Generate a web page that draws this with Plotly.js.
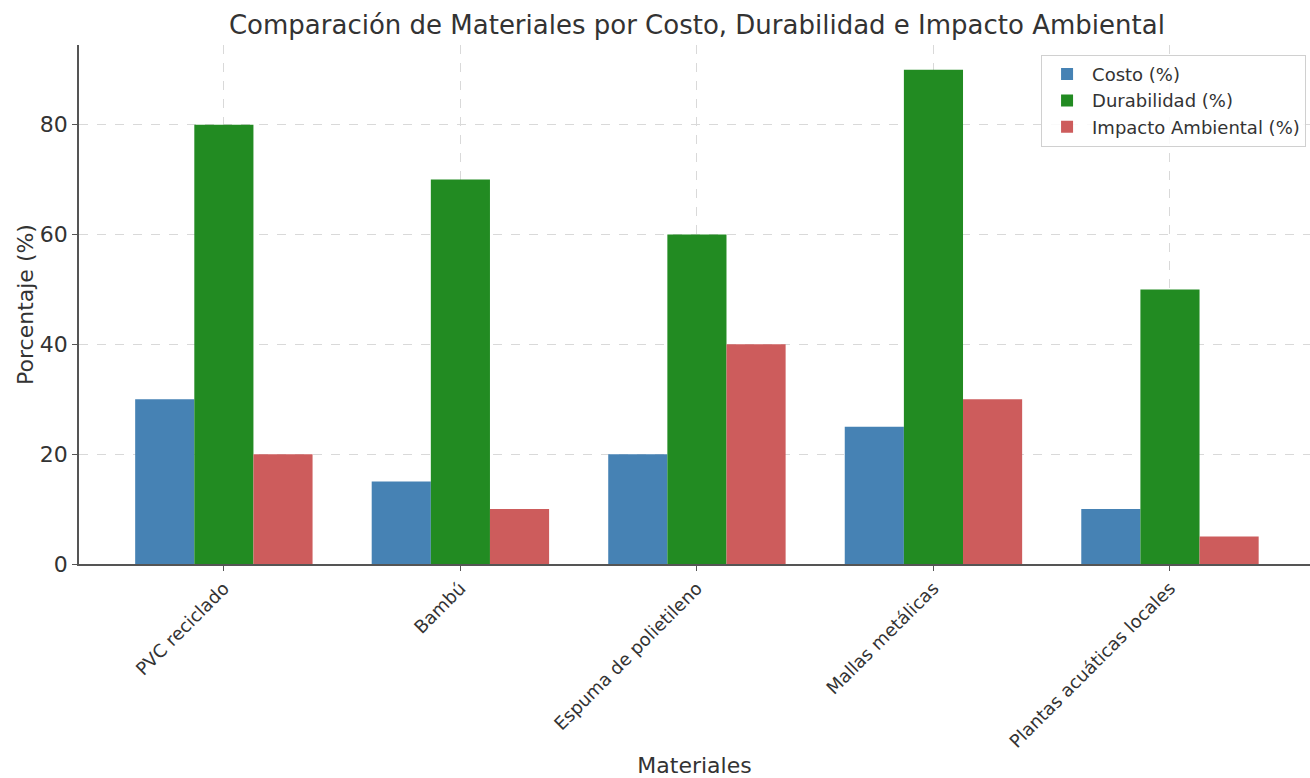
<!DOCTYPE html>
<html>
<head>
<meta charset="utf-8">
<script src="https://cdn.plot.ly/plotly-3.0.1.min.js"></script>
<style>html,body{margin:0;padding:0;background:#fff;}#chart{width:1310px;height:778px;}</style>
</head>
<body>
<div id="chart"></div>
<script>
const materiales = ["PVC reciclado", "Bambú", "Espuma de polietileno", "Mallas metálicas", "Plantas acuáticas locales"];
const costo = [30, 15, 20, 25, 10];
const durabilidad = [80, 70, 60, 90, 50];
const impacto = [20, 10, 40, 30, 5];
const seriesNames = ["Costo (%)", "Durabilidad (%)", "Impacto Ambiental (%)"];
const colors = ["#4682B4", "#228B22", "#CD5C5C"];

const font = "DejaVu Sans, sans-serif";
const data = [costo, durabilidad, impacto].map((vals, i) => ({
  type: "bar",
  x: materiales,
  y: vals,
  name: seriesNames[i],
  marker: {color: colors[i], line: {width: 0}},
  hoverinfo: "x+y+name"
}));

const layout = {
  width: 1310, height: 778,
  margin: {l: 79, r: 0, t: 45, b: 214},
  paper_bgcolor: "#fff", plot_bgcolor: "#fff",
  barmode: "group", bargap: 0.25, bargroupgap: 0,
  font: {family: font, color: "#333"},
  title: {text: "Comparación de Materiales por Costo, Durabilidad e Impacto Ambiental",
          font: {family: font, size: 26, color: "#333"}, x: 0.532, xanchor: "center", y: 0.968, yanchor: "middle"},
  xaxis: {
    type: "category",
    range: [-0.6125, 4.592],
    tickangle: -45,
    tickfont: {family: font, size: 18, color: "#333"},
    ticks: "outside", ticklen: 5, tickcolor: "#555",
    showgrid: true, gridcolor: "#d9d9d9", griddash: "dash", gridwidth: 1,
    showline: true, linecolor: "#555", linewidth: 1.5,
    title: {text: "Materiales", font: {family: font, size: 22, color: "#333"}, standoff: 10},
    automargin: false
  },
  yaxis: {
    range: [0, 94.5],
    tickvals: [0, 20, 40, 60, 80],
    tickfont: {family: font, size: 22, color: "#333"},
    ticks: "outside", ticklen: 5, tickcolor: "#555",
    showgrid: true, gridcolor: "#d9d9d9", griddash: "dash", gridwidth: 1,
    zeroline: false,
    showline: true, linecolor: "#555", linewidth: 1.5,
    title: {text: "Porcentaje (%)", font: {family: font, size: 22, color: "#333"}, standoff: 0},
    automargin: false
  },
  legend: {
    x: 0.9968, xanchor: "right", y: 0.981, yanchor: "top",
    bgcolor: "rgba(255,255,255,0.85)", bordercolor: "#d0d0d0", borderwidth: 1,
    font: {family: font, size: 18, color: "#333"},
    traceorder: "normal", itemwidth: 40
  },
  showlegend: true
};

Plotly.newPlot("chart", data, layout, {displayModeBar: false, responsive: false});
</script>
</body>
</html>
